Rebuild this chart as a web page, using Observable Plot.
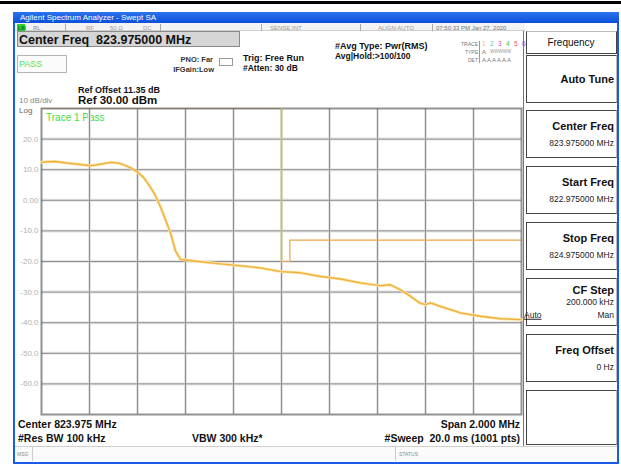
<!DOCTYPE html>
<html>
<head>
<meta charset="utf-8">
<script src="https://cdn.jsdelivr.net/npm/d3@7"></script>
<script src="https://cdn.jsdelivr.net/npm/@observablehq/plot@0.6"></script>
<style>
  html, body { margin: 0; padding: 0; background: #fff; }
  body { width: 621px; height: 465px; position: relative; overflow: hidden;
         font-family: "Liberation Sans", Arial, sans-serif; }
  .abs { position: absolute; white-space: pre; }
  .box { position: absolute; box-sizing: border-box; }
  #chart { position: absolute; left: 0; top: 0; z-index: 2; }
  #chart svg { background: transparent !important; }
</style>
</head>
<body>
<div id="ui"></div>
<div id="chart"></div>
<script>
// ---- data ----
const freqMHz = [822.975, 823.000, 823.033, 823.080, 823.138, 823.179, 823.220, 823.263, 823.300, 823.325,
  823.350, 823.375, 823.400, 823.429, 823.450, 823.471, 823.490, 823.513, 823.533, 823.554,
  823.575, 823.638, 823.700, 823.763, 823.830, 823.888, 823.971, 824.054, 824.138, 824.221,
  824.304, 824.388, 824.429, 824.471, 824.513, 824.550, 824.575, 824.596, 824.638, 824.721,
  824.804, 824.888, 824.975];
const levelDbm = [12.4, 12.6, 12.7, 12.2, 11.7, 11.3, 11.8, 12.4, 12.1, 11.3,
  10.5, 9.2, 7.5, 4.3, 1.5, -2.2, -6.0, -10.8, -16.5, -19.3,
  -19.5, -20.1, -20.6, -21.1, -21.6, -22.1, -23.3, -23.7, -24.9, -25.7,
  -27.0, -27.9, -27.6, -29.3, -31.4, -33.5, -34.1, -33.5, -34.7, -36.8,
  -37.9, -38.7, -39.0];
const limitFreq = [822.975, 823.975, 823.975, 824.010, 824.010, 824.975];
const limitDbm  = [30, 30, -20, -20, -13, -13];
const markerFreq = [823.975, 823.975];
const markerDbm  = [30, -20];
const yGrid = [-60, -50, -40, -30, -20, -10, 0, 10, 20];
const yLabels = ["-60.0", "-50.0", "-40.0", "-30.0", "-20.0", "-10.0", "0.00", "10.0", "20.0"];
const xGrid = [823.175, 823.375, 823.575, 823.775, 823.975, 824.175, 824.375, 824.575, 824.775];
const softkeyTitles = ["Center Freq", "Start Freq", "Stop Freq", "CF Step", "Freq Offset"];
const softkeyValues = ["823.975000 MHz", "822.975000 MHz", "824.975000 MHz", "200.000 kHz", "0 Hz"];

const trace = freqMHz.map((f, i) => ({f, v: levelDbm[i]}));
const limit = limitFreq.map((f, i) => ({f, v: limitDbm[i]}));
const marker = markerFreq.map((f, i) => ({f, v: markerDbm[i]}));
const yLab = yGrid.map((v, i) => ({v, t: yLabels[i]}));

// ---- UI chrome (HTML) ----
const ui = document.getElementById("ui");
function box(x, y, w, h, style) {
  const d = document.createElement("div");
  d.className = "box";
  Object.assign(d.style, {left: x + "px", top: y + "px", width: w + "px", height: h + "px"}, style || {});
  ui.appendChild(d); return d;
}
function txt(s, x, y, size, opts) {
  opts = opts || {};
  const d = document.createElement("div");
  d.className = "abs";
  d.textContent = s;
  const ax = opts.anchor === "end" ? "-100%" : opts.anchor === "middle" ? "-50%" : "0";
  Object.assign(d.style, {
    left: x + "px", top: y + "px", fontSize: size + "px", lineHeight: "1",
    fontWeight: opts.bold ? "bold" : "normal", color: opts.color || "#111",
    transform: `translate(${ax}, -50%)`, fontFamily: opts.font || "inherit",
    letterSpacing: opts.ls || "normal"
  });
  ui.appendChild(d); return d;
}

// top black rule
box(0, 1, 621, 3, {background: "#000"});
// window frame
box(13, 12, 606, 452, {border: "2px solid #1a5be6", background: "#fff"});
// title bar
box(13, 12, 606, 11, {background: "linear-gradient(#2c74ee, #0b4fd8)"});
txt("Agilent Spectrum Analyzer - Swept SA", 20, 17.5, 8, {color: "#fff"});
// status row
box(15, 23, 510, 8, {background: "#f3f3f3", borderBottom: "1px solid #cfcfcf"});
box(17, 24, 8, 7, {background: "#2fcf2f"});
txt("LXI", 18, 27.5, 5, {bold: true, color: "#063"});
txt("RL", 33, 27.5, 6, {color: "#888"});
txt("RF", 86, 27.5, 6, {color: "#999"});
txt("50 Ω", 110, 27.5, 6, {color: "#999"});
txt("DC", 143, 27.5, 6, {color: "#999"});
txt("SENSE:INT", 270, 27.5, 6, {color: "#999"});
txt("ALIGN AUTO", 378, 27.5, 6, {color: "#999"});
txt("07:50:33 PM Jan 27, 2020", 436, 27.5, 6, {color: "#777"});
[65, 160, 261, 360, 432].forEach(x => box(x, 24, 1, 7, {background: "#aaa"}));
// center freq field
box(17, 31, 223, 16, {background: "#d6d6d6", border: "1px solid #8a8a8a"});
txt("Center Freq  823.975000 MHz", 19, 39.5, 12.5, {bold: true});
// PASS
box(17, 55, 50, 18, {border: "1px solid #b5b5b5", background: "#fbfbfb"});
txt("PASS", 19, 64, 9, {color: "#56e656"});
// PNO
txt("PNO: Far", 213, 60, 7.5, {bold: true, anchor: "end", color: "#333"});
txt("IFGain:Low", 214, 69.5, 7.5, {bold: true, anchor: "end", color: "#333"});
box(219, 58, 14, 8, {border: "1px solid #999", background: "#fff"});
// trig
txt("Trig: Free Run", 243, 58, 9, {bold: true});
txt("#Atten: 30 dB", 243, 68, 8.5, {bold: true});
// avg
txt("#Avg Type: Pwr(RMS)", 335, 45.5, 9, {bold: true});
txt("Avg|Hold:>100/100", 335, 55.5, 8.5, {bold: true});
// trace table
txt("TRACE", 478, 44, 5, {anchor: "end", color: "#777"});
txt("TYPE", 478, 52, 5, {anchor: "end", color: "#777"});
txt("DET", 478, 59.5, 5, {anchor: "end", color: "#777"});
box(479, 41, 1, 22, {background: "#999"});
const tc = ["#f0c040", "#40d0d0", "#e040e0", "#40c040", "#e05080", "#4060e0"];
["1", "2", "3", "4", "5", "6"].forEach((s, i) => txt(s, 482 + i * 8, 44, 6.5, {color: tc[i]}));
txt("A", 482, 52, 6, {color: "#777"});
txt("WWWWW", 490, 52, 4.5, {color: "#999"});
txt("A A A A A A", 482, 59.5, 6, {color: "#777"});
// ref
txt("Ref Offset 11.35 dB", 78, 89.5, 9, {bold: true});
txt("Ref 30.00 dBm", 78, 100.5, 11.5, {bold: true});
txt("10 dB/div", 19, 101, 8, {color: "#888"});
txt("Log", 19, 110.5, 8, {color: "#666"});
txt("Trace 1 Pass", 46, 117.5, 10, {color: "#3ee03e"});
// bottom annotations
txt("Center 823.975 MHz", 18, 424, 10.5, {bold: true});
txt("#Res BW 100 kHz", 18, 438, 10.5, {bold: true});
txt("VBW 300 kHz*", 192, 438, 10.5, {bold: true});
txt("Span 2.000 MHz", 520, 424, 10.5, {bold: true, anchor: "end"});
txt("#Sweep  20.0 ms (1001 pts)", 520, 438, 10.5, {bold: true, anchor: "end"});
// message bar
box(15, 446, 602, 16, {borderTop: "1px solid #cfcfcf", background: "#fbfbfb"});
box(32, 447, 1, 14, {background: "#ccc"});
box(395, 447, 1, 14, {background: "#ccc"});
txt("MSG", 17, 454, 5, {color: "#888"});
txt("STATUS", 399, 454, 5, {color: "#888"});
// right soft-key panel
box(523, 31, 1, 415, {background: "#777"});
box(526, 31, 91, 23, {border: "1px solid #444", borderTop: "1px solid #bbb", background: "#fff"});
txt("Frequency", 571, 42.5, 10, {anchor: "middle", color: "#111"});
box(526, 55, 91, 48, {border: "1px solid #444", borderRight: "1px solid #bbb", background: "#fff"});
txt("Auto Tune", 614, 79, 11, {bold: true, anchor: "end"});
softkeyTitles.forEach((t, i) => {
  const top = 110 + i * 56;
  box(526, top, 91, 48, {border: "1px solid #444", borderRight: "1px solid #bbb", background: "#fff"});
  if (t === "CF Step") {
    txt(t, 614, top + 12, 11, {bold: true, anchor: "end"});
    txt(softkeyValues[i], 614, top + 24, 8.5, {anchor: "end", color: "#222"});
    const a = txt("Auto", 524, top + 37, 8.5, {color: "#222"});
    a.style.textDecoration = "underline";
    txt("Man", 614, top + 37, 8.5, {anchor: "end", color: "#222"});
  } else {
    txt(t, 614, top + 16, 11, {bold: true, anchor: "end"});
    txt(softkeyValues[i], 614, top + 33, 8.5, {anchor: "end", color: "#222"});
  }
});
box(526, 390, 91, 55, {border: "1px solid #444", borderRight: "1px solid #bbb", background: "#fff"});

// ---- the graticule and trace with Observable Plot ----
const chart = Plot.plot({
  width: 621, height: 465,
  marginLeft: 41, marginRight: 100, marginTop: 108, marginBottom: 51,
  style: {background: "transparent", fontFamily: "'Liberation Sans', Arial, sans-serif"},
  x: {domain: [822.975, 824.975], axis: null},
  y: {domain: [-70, 30], axis: null},
  marks: [
    Plot.ruleY(yGrid, {stroke: "#e6e6e6", strokeWidth: 3}),
    Plot.ruleX(xGrid, {stroke: "#e6e6e6", strokeWidth: 3}),
    Plot.ruleY(yGrid, {stroke: "#8e8e8e", strokeWidth: 1}),
    Plot.ruleX(xGrid, {stroke: "#8e8e8e", strokeWidth: 1}),
    Plot.line(limit, {x: "f", y: "v", stroke: "#eaa848", strokeWidth: 1.2}),
    Plot.frame({stroke: "#6e6e6e", strokeWidth: 2, strokeOpacity: 0.75}),
    Plot.text(yLab, {x: () => 822.975, y: "v", text: "t", dx: -3, textAnchor: "end", fill: "#b0b0b0", fontSize: 8}),
    Plot.line(marker, {x: "f", y: "v", stroke: "#b8cc55", strokeWidth: 1.5}),
    Plot.line(trace, {x: "f", y: "v", stroke: "#fbe6a8", strokeWidth: 3}),
    Plot.line(trace, {x: "f", y: "v", stroke: "#f0b040", strokeWidth: 1.4})
  ]
});
document.getElementById("chart").appendChild(chart);
</script>
</body>
</html>
